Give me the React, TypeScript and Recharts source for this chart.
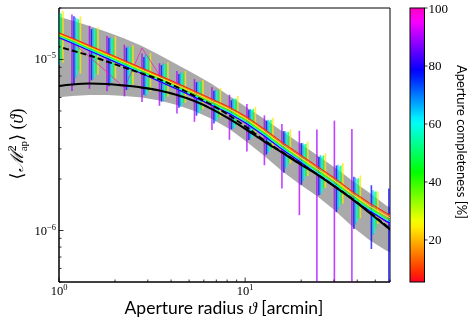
import React from 'react';
import { ComposedChart, Area, Line, Scatter, ErrorBar, XAxis, YAxis, ReferenceArea } from 'recharts';

// ---------------- data (values in units of 1e-6) ----------------
const UNIT = 1e-6;
const thetaArcmin = [0.946, 1.174, 1.458, 1.81, 2.247, 2.791, 3.465, 4.302, 5.342, 6.632, 8.234, 10.22, 12.69, 15.76, 19.56, 24.29, 30.16, 37.45, 46.5, 57.72, 61];

// measured signal for different aperture completeness cuts
const comp08 = [14.67, 13.35, 12.07, 10.91, 9.86, 8.91, 8.06, 7.28, 6.54, 5.87, 5.27, 4.61, 3.92, 3.29, 2.80, 2.38, 2.03, 1.70, 1.45, 1.26, 1.23];
const comp15 = [14.52, 13.22, 11.95, 10.80, 9.76, 8.82, 7.98, 7.21, 6.47, 5.81, 5.22, 4.56, 3.88, 3.26, 2.77, 2.36, 2.01, 1.68, 1.43, 1.24, 1.21];
const comp24 = [14.38, 13.07, 11.80, 10.66, 9.62, 8.69, 7.85, 7.08, 6.36, 5.70, 5.11, 4.47, 3.79, 3.18, 2.70, 2.30, 1.96, 1.64, 1.39, 1.21, 1.18];
const comp40 = [14.19, 12.90, 11.64, 10.51, 9.48, 8.55, 7.72, 6.97, 6.25, 5.60, 5.02, 4.38, 3.72, 3.12, 2.65, 2.25, 1.92, 1.60, 1.36, 1.18, 1.15];
const comp58 = [13.98, 12.70, 11.45, 10.33, 9.32, 8.40, 7.58, 6.84, 6.13, 5.49, 4.92, 4.29, 3.64, 3.05, 2.59, 2.19, 1.87, 1.56, 1.33, 1.15, 1.12];
const comp78 = [13.79, 12.52, 11.30, 10.18, 9.18, 8.28, 7.47, 6.73, 6.03, 5.40, 4.84, 4.22, 3.58, 3.00, 2.55, 2.15, 1.84, 1.54, 1.31, 1.13, 1.10];
const comp90 = [13.72, 12.45, 11.24, 10.13, 9.13, 8.24, 7.43, 6.70, 6.00, 5.37, 4.81, 4.20, 3.56, 2.98, 2.53, 2.14, 1.83, 1.53, 1.30, 1.12, 1.09];
const comp100 = [14.28, 12.65, 10.34, 8.45, 6.81, 11.68, 8.11, 7.10, 6.30, 5.70, 5.05, 4.45, 3.85, 3.20, 2.75, 2.30, 1.95, 1.63, 1.40, 1.20, 1.17];

// error bars (symmetric, units of 1e-6)
const err90 = [5.8, 5.9, 4.5, 3.6, 3.05, 2.6, 2.07, 1.87, 1.68, 1.5, 1.42, 1.3, 1.15, 1.22, 1.3, 1.75, 2.56, 2.39, null, null, null];
const err78 = [5.4, 5.4, 3.74, 3.2, 2.55, 2.07, 1.8, 1.5, 1.34, 1.17, 0.94, 0.84, 0.8, 0.82, 0.7, 0.54, 0.56, 0.52, 0.53, 0.63, null];
const err66 = [5.0, 4.9, 3.8, 3.1, 2.6, 2.3, 1.9, 1.55, 1.3, 1.15, 1.0, 0.85, 0.8, 0.75, 0.65, 0.57, 0.55, 0.48, 0.39, null, null];
const err58 = [4.7, 4.6, 3.6, 2.9, 2.45, 2.15, 1.75, 1.45, 1.25, 1.08, 0.95, 0.8, 0.75, 0.7, 0.6, 0.52, 0.5, 0.44, 0.36, null, null];
const err48 = [4.4, 4.3, 3.4, 2.75, 2.3, 2.0, 1.65, 1.4, 1.18, 1.02, 0.9, 0.76, 0.72, 0.66, 0.57, 0.5, 0.48, 0.42, 0.33, null, null];
const err24 = [4.8, 4.8, 3.65, 2.95, 2.5, 2.2, 1.8, 1.5, 1.23, 1.12, 1.0, 0.82, 0.78, 0.72, 0.62, 0.53, 0.52, 0.46, 0.3, null, null];

// model prediction
const modelSolid = [6.95, 7.14, 7.24, 7.19, 7.04, 6.85, 6.59, 6.20, 5.72, 5.13, 4.49, 3.87, 3.31, 2.86, 2.46, 2.13, 1.81, 1.53, 1.27, 1.05, 1.00];
const modelDashed = [12.07, 11.29, 10.55, 9.73, 8.97, 8.28, 7.64, 6.90, 6.12, 5.42, 4.70, 4.00, 3.36, 2.88, 2.48, 2.14, 1.82, 1.54, 1.28, 1.06, 1.01];
const bandLow = [5.99, 6.12, 6.20, 6.20, 6.12, 5.99, 5.75, 5.42, 5.00, 4.49, 3.92, 3.29, 2.73, 2.23, 1.87, 1.59, 1.32, 1.06, 0.88, 0.76, 0.74];
const bandHigh = [18.08, 16.90, 15.70, 14.48, 13.26, 11.99, 10.62, 9.35, 8.22, 7.19, 6.12, 5.24, 4.49, 3.82, 3.25, 2.76, 2.34, 1.97, 1.66, 1.39, 1.36];

const xTicks = [1, 2, 3, 4, 5, 6, 7, 8, 9, 10, 20, 30, 40, 50, 60];
const yTicks = [5e-7, 6e-7, 7e-7, 8e-7, 9e-7, 1e-6, 2e-6, 3e-6, 4e-6, 5e-6, 6e-6, 7e-6, 8e-6, 9e-6, 1e-5, 2e-5];
const cbarTicks = [20, 40, 60, 80, 100];

const X_DOMAIN = [1, 60];
const Y_DOMAIN = [5e-7, 2e-5];

// ---------------- colormap (gist_rainbow) ----------------
const CMIN = 5.5, CMAX = 100;
const GR: Record<string, number[][]> = {
  r: [[0, 1], [0.03, 1], [0.215, 1], [0.4, 0], [0.586, 0], [0.77, 0], [0.954, 1], [1, 1]],
  g: [[0, 0], [0.215, 1], [0.4, 1], [0.586, 1], [0.77, 0], [0.954, 0], [1, 0]],
  b: [[0, 0.16], [0.03, 0], [0.215, 0], [0.4, 0], [0.586, 1], [0.77, 1], [0.954, 1], [1, 0.75]],
};
function interp(pts: number[][], t: number) {
  for (let i = 1; i < pts.length; i++) {
    if (t <= pts[i][0]) {
      const [x0, y0] = pts[i - 1];
      const [x1, y1] = pts[i];
      return y0 + ((t - x0) / (x1 - x0)) * (y1 - y0);
    }
  }
  return pts[pts.length - 1][1];
}
function cmap(c: number, alpha = 1) {
  const t = Math.max(0, Math.min(1, (c - CMIN) / (CMAX - CMIN)));
  const r = Math.round(255 * interp(GR.r, t));
  const g = Math.round(255 * interp(GR.g, t));
  const b = Math.round(255 * interp(GR.b, t));
  return alpha === 1 ? `rgb(${r},${g},${b})` : `rgba(${r},${g},${b},${alpha})`;
}

const lineSeries = [
  { key: 'c100', comp: 100, values: comp100, width: 0.9, opacity: 0.7 },
  { key: 'c90', comp: 90, values: comp90, width: 1.1, opacity: 1 },
  { key: 'c78', comp: 78, values: comp78, width: 1.1, opacity: 1 },
  { key: 'c58', comp: 58, values: comp58, width: 1.1, opacity: 1 },
  { key: 'c40', comp: 40, values: comp40, width: 1.1, opacity: 1 },
  { key: 'c24', comp: 24, values: comp24, width: 1.1, opacity: 1 },
  { key: 'c15', comp: 15, values: comp15, width: 1, opacity: 1 },
  { key: 'c08', comp: 8, values: comp08, width: 1, opacity: 1 },
];

const barSeries = [
  { comp: 90, center: comp90, err: err90, dodge: 0 },
  { comp: 78, center: comp78, err: err78, dodge: 0.0107 },
  { comp: 66, center: comp58, err: err66, dodge: 0.0188 },
  { comp: 58, center: comp58, err: err58, dodge: 0.0269 },
  { comp: 48, center: comp40, err: err48, dodge: 0.0349 },
  { comp: 24, center: comp24, err: err24, dodge: 0.0456 },
];

const mainData = thetaArcmin.map((t, i) => {
  const row: any = {
    theta: t,
    band: [bandLow[i] * UNIT, bandHigh[i] * UNIT],
    solid: modelSolid[i] * UNIT,
    dashed: modelDashed[i] * UNIT,
  };
  lineSeries.forEach((s) => { row[s.key] = s.values[i] * UNIT; });
  return row;
});

// error bars are clipped to the visible axes range (ErrorBar itself is not clipped)
const barData = barSeries.map((s) =>
  thetaArcmin
    .map((t, i) => {
      const e = s.err[i];
      if (e == null) return null;
      const x = t * Math.pow(10, s.dodge);
      if (x < X_DOMAIN[0] || x > X_DOMAIN[1]) return null;
      const c = s.center[i] * UNIT;
      const err = e * UNIT;
      const lo = Math.min(err, c - Y_DOMAIN[0]);
      const hi = Math.min(err, Y_DOMAIN[1] - c);
      return { theta: x, y: c, e: [lo, hi] };
    })
    .filter((d) => d !== null)
);

// ---------------- ticks ----------------
const SERIF = "'Liberation Serif', 'DejaVu Serif', serif";
const SANS = "Lato, 'DejaVu Sans', sans-serif";

function isDecade(v: number) {
  const l = Math.log10(v);
  return Math.abs(l - Math.round(l)) < 1e-6;
}

const XTick = (props: any) => {
  const { x, y, payload } = props;
  const major = isDecade(payload.value);
  const exp = Math.round(Math.log10(payload.value));
  return (
    <g>
      <line x1={x} x2={x} y1={y} y2={y - (major ? 4.5 : 2.5)} stroke="#000" strokeWidth={0.8} />
      {major && (
        <text x={x} y={y + 12.5} textAnchor="middle" fontFamily={SERIF} fontSize={12.5} fill="#000" stroke="none">
          10<tspan dy={-5} fontSize={8.5}>{exp}</tspan>
        </text>
      )}
    </g>
  );
};

const YTick = (props: any) => {
  const { x, y, payload } = props;
  const major = isDecade(payload.value);
  const exp = Math.round(Math.log10(payload.value));
  return (
    <g>
      <line x1={x} x2={x + (major ? 4.5 : 2.5)} y1={y} y2={y} stroke="#000" strokeWidth={0.8} />
      {major && (
        <text x={x - 3} y={y + 4} textAnchor="end" fontFamily={SERIF} fontSize={12.5} fill="#000" stroke="none">
          10<tspan dy={-5} fontSize={8.5}>{'\u2212' + Math.abs(exp)}</tspan>
        </text>
      )}
    </g>
  );
};

const NoShape = () => <g />;

// ---------------- colorbar geometry ----------------
const CB_X = 410, CB_Y = 8, CB_W = 14.5, CB_H = 274;
const cbY = (c: number) => CB_Y + CB_H * (1 - (c - CMIN) / (CMAX - CMIN));
const gradStops = Array.from({ length: 41 }, (_, k) => k / 40);

export default function App() {
  return (
    <div style={{ position: 'absolute', left: 0, top: 0, width: 474, height: 324, background: '#fff' }}>
      <div style={{ position: 'absolute', left: 0, top: 0, willChange: 'transform' }}>
        <ComposedChart
          width={474}
          height={324}
          data={mainData}
          margin={{ top: 8, right: 84, bottom: 0, left: 0 }}
        >
          <XAxis
            dataKey="theta"
            type="number"
            scale="log"
            domain={X_DOMAIN}
            allowDataOverflow
            ticks={xTicks}
            interval={0}
            tick={XTick}
            tickLine={false}
            tickSize={0}
            tickMargin={0}
            height={42}
            axisLine={{ stroke: '#000', strokeWidth: 1 }}
          />
          <YAxis
            type="number"
            scale="log"
            domain={Y_DOMAIN}
            allowDataOverflow
            ticks={yTicks}
            interval={0}
            tick={YTick}
            tickLine={false}
            tickSize={0}
            tickMargin={0}
            width={59}
            axisLine={{ stroke: '#000', strokeWidth: 1 }}
          />
          <Area
            dataKey="band"
            type="linear"
            stroke="none"
            fill="#a9a9a9"
            fillOpacity={1}
            isAnimationActive={false}
            activeDot={false}
          />
          {barSeries.map((s, k) => (
            <Scatter
              key={'bar' + k}
              data={barData[k] as any[]}
              dataKey="y"
              shape={NoShape}
              isAnimationActive={false}
            >
              <ErrorBar
                dataKey="e"
                direction="y"
                width={0}
                stroke={cmap(s.comp, 0.75)}
                strokeWidth={1.6}
                isAnimationActive={false}
              />
            </Scatter>
          ))}
          {lineSeries.map((s) => (
            <Line
              key={s.key}
              dataKey={s.key}
              type="linear"
              stroke={cmap(s.comp)}
              strokeOpacity={s.opacity}
              strokeWidth={s.width}
              dot={false}
              activeDot={false}
              isAnimationActive={false}
            />
          ))}
          <Line dataKey="dashed" type="monotone" stroke="#000" strokeWidth={1.9} strokeDasharray="6 3" dot={false} activeDot={false} isAnimationActive={false} />
          <Line dataKey="solid" type="monotone" stroke="#000" strokeWidth={2.1} dot={false} activeDot={false} isAnimationActive={false} />
          <ReferenceArea x1={1} x2={60} y1={5e-7} y2={2e-5} fill="none" stroke="#000" strokeWidth={1} ifOverflow="visible" />
        </ComposedChart>
      </div>

      <svg width={474} height={324} style={{ position: 'absolute', left: 0, top: 0, pointerEvents: 'none' }}>
        <defs>
          <linearGradient id="cbgrad" x1="0" y1="1" x2="0" y2="0">
            {gradStops.map((t) => (
              <stop key={t} offset={t} stopColor={cmap(CMIN + t * (CMAX - CMIN))} />
            ))}
          </linearGradient>
        </defs>
        <rect x={CB_X} y={CB_Y} width={CB_W} height={CB_H} fill="url(#cbgrad)" stroke="#000" strokeWidth={1} />
        {cbarTicks.map((c) => (
          <g key={c}>
            <line x1={CB_X + CB_W} x2={CB_X + CB_W + 3} y1={cbY(c)} y2={cbY(c)} stroke="#000" strokeWidth={0.8} />
            <text x={CB_X + CB_W + 4} y={cbY(c) + 4.5} fontFamily={SERIF} fontSize={13} fill="#000">{c}</text>
          </g>
        ))}
        <text
          transform={`translate(457,142) rotate(90)`}
          textAnchor="middle"
          fontFamily={SANS}
          fontSize={13}
          fill="#000"
        >
          Aperture completeness [%]
        </text>
        <text x={224} y={314} textAnchor="middle" fontFamily={SANS} fontSize={17.5} fill="#000">
          Aperture radius <tspan fontFamily={SERIF} fontStyle="italic">ϑ</tspan> [arcmin]
        </text>
        <text transform="translate(23,144) rotate(-90)" textAnchor="middle" fontFamily={SERIF} fontSize={18} fill="#000">
          ⟨<tspan fontFamily="'DejaVu Serif', serif" fontStyle="italic">ℳ</tspan>
          <tspan fontSize={12} dy={-7}>2</tspan>
          <tspan fontSize={11} dx={-6} dy={11}>ap</tspan>
          <tspan dy={-4}>⟩</tspan> (<tspan fontStyle="italic">ϑ</tspan>)
        </text>
      </svg>
    </div>
  );
}
